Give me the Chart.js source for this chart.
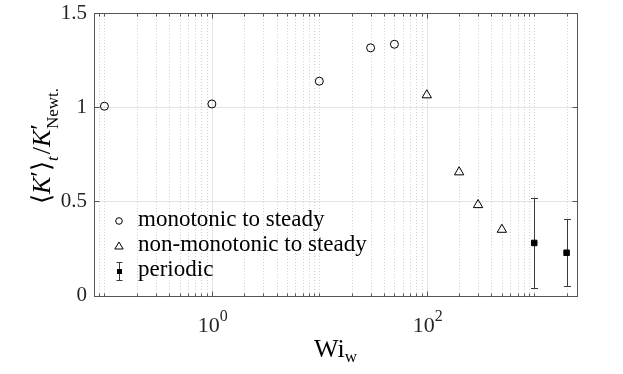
<!DOCTYPE html>
<html><head><meta charset="utf-8">
<script src="https://cdn.jsdelivr.net/npm/chart.js@4.4.0/dist/chart.umd.min.js"></script>
<style>html,body{margin:0;padding:0;background:#fff;}canvas{display:block;}</style>
</head><body>
<canvas id="c" width="623" height="374"></canvas>
<script>
// ---- data ----
const monotonicWi = [0.1, 1, 10, 30, 50];
const monotonicK = [1.005, 1.017, 1.138, 1.315, 1.334];
const nonMonotonicWi = [100, 200, 300, 500];
const nonMonotonicK = [1.064, 0.655, 0.481, 0.350];
const periodicWi = [1000, 2000];
const periodicK = [0.279, 0.227];
const periodicLow = [0.038, 0.049];
const periodicHigh = [0.519, 0.407];
const xTicks = [1, 100];
const yTicks = [0, 0.5, 1, 1.5];
const legendLabels = ['monotonic to steady', 'non-monotonic to steady', 'periodic'];
const xMin = 0.08, xMax = 2500, yMin = 0, yMax = 1.5;

const SERIF = '"Liberation Serif", "Times New Roman", serif';
const AXC = '#262626';

function pts(xs, ys) { return xs.map((x, i) => ({x: x, y: ys[i]})); }

const deco = {
  id: 'deco',
  beforeDatasetsDraw(chart) {
    const ctx = chart.ctx, a = chart.chartArea, sx = chart.scales.x, sy = chart.scales.y;
    ctx.save();
    // minor x grid (dotted)
    ctx.strokeStyle = '#d2d2d2'; ctx.lineWidth = 1; ctx.setLineDash([1, 2]);
    for (let k = -2; k <= 4; k++) {
      for (let n = 1; n <= 9; n++) {
        const v = n * Math.pow(10, k);
        if (v < xMin || v > xMax || xTicks.some(t => Math.abs(t - v) < 1e-9)) continue;
        const px = Math.round(sx.getPixelForValue(v)) + 0.5;
        ctx.beginPath(); ctx.moveTo(px, a.top); ctx.lineTo(px, a.bottom); ctx.stroke();
      }
    }
    ctx.setLineDash([]);
    // major grid
    ctx.strokeStyle = '#e3e3e3';
    xTicks.forEach(v => {
      const px = Math.round(sx.getPixelForValue(v)) + 0.5;
      ctx.beginPath(); ctx.moveTo(px, a.top); ctx.lineTo(px, a.bottom); ctx.stroke();
    });
    yTicks.forEach(v => {
      const py = Math.round(sy.getPixelForValue(v)) + 0.5;
      ctx.beginPath(); ctx.moveTo(a.left, py); ctx.lineTo(a.right, py); ctx.stroke();
    });
    // error bars
    ctx.strokeStyle = '#3a3a3a'; ctx.lineWidth = 1;
    periodicWi.forEach((x, i) => {
      const px = Math.round(sx.getPixelForValue(x)) + 0.5;
      const y1 = sy.getPixelForValue(periodicLow[i]), y2 = sy.getPixelForValue(periodicHigh[i]);
      ctx.beginPath();
      ctx.moveTo(px, y1); ctx.lineTo(px, y2);
      ctx.moveTo(px - 3.5, Math.round(y1) + 0.5); ctx.lineTo(px + 3.5, Math.round(y1) + 0.5);
      ctx.moveTo(px - 3.5, Math.round(y2) + 0.5); ctx.lineTo(px + 3.5, Math.round(y2) + 0.5);
      ctx.stroke();
    });
    ctx.restore();
  },
  afterDraw(chart) {
    const ctx = chart.ctx, a = chart.chartArea, sx = chart.scales.x, sy = chart.scales.y;
    ctx.save();
    // box
    ctx.strokeStyle = '#555'; ctx.lineWidth = 1;
    const L = Math.round(a.left) + 0.5, R = Math.round(a.right) + 0.5, T = Math.round(a.top) + 0.5, B = Math.round(a.bottom) + 0.5;
    ctx.strokeRect(L, T, R - L, B - T);
    // ticks
    ctx.beginPath();
    for (let k = -2; k <= 4; k++) {
      for (let n = 1; n <= 9; n++) {
        const v = n * Math.pow(10, k);
        if (v < xMin || v > xMax) continue;
        const major = xTicks.some(t => Math.abs(t - v) < 1e-9);
        const len = major ? 5 : 3;
        const px = Math.round(sx.getPixelForValue(v)) + 0.5;
        ctx.moveTo(px, B); ctx.lineTo(px, B - len);
        ctx.moveTo(px, T); ctx.lineTo(px, T + len);
      }
    }
    yTicks.forEach(v => {
      const py = Math.round(sy.getPixelForValue(v)) + 0.5;
      ctx.moveTo(L, py); ctx.lineTo(L + 5, py);
      ctx.moveTo(R, py); ctx.lineTo(R - 5, py);
    });
    ctx.stroke();

    // x tick labels 10^n
    ctx.fillStyle = AXC; ctx.textBaseline = 'alphabetic'; ctx.textAlign = 'left';
    xTicks.forEach(v => {
      const e = String(Math.round(Math.log10(v)));
      ctx.font = '22px ' + SERIF; const wb = ctx.measureText('10').width;
      ctx.font = '16px ' + SERIF; const we = ctx.measureText(e).width;
      const px = sx.getPixelForValue(v);
      const x0 = px - (wb + we) / 2 + 1;
      ctx.font = '22px ' + SERIF; ctx.fillText('10', x0, 332);
      ctx.font = '16px ' + SERIF; ctx.fillText(e, x0 + wb, 321);
    });

    // x title Wi_w
    ctx.fillStyle = '#000';
    ctx.font = '26px ' + SERIF; const wWi = ctx.measureText('Wi').width;
    ctx.font = '17px ' + SERIF; const ww = ctx.measureText('w').width;
    const cx = (a.left + a.right) / 2;
    const xs = cx - (wWi + ww) / 2;
    ctx.font = '26px ' + SERIF; ctx.fillText('Wi', xs, 357);
    ctx.font = '17px ' + SERIF; ctx.fillText('w', xs + wWi, 362);

    // y title <K'>_t / K'_Newt.
    const big = 26, small = 17, sub = 8;
    const segs = [
      {t: '\u27E8', f: big + 'px ' + SERIF, dy: 0},
      {t: 'K', f: 'italic ' + big + 'px ' + SERIF, dy: 0},
      {t: '\u2032', f: big + 'px ' + SERIF, dy: -2},
      {t: '\u27E9', f: big + 'px ' + SERIF, dy: 0},
      {t: 't', f: 'italic ' + small + 'px ' + SERIF, dy: sub},
      {t: '/', f: big + 'px ' + SERIF, dy: 0, pre: 2},
      {t: 'K', f: 'italic ' + big + 'px ' + SERIF, dy: 0},
      {t: '\u2032', f: big + 'px ' + SERIF, dy: -2},
      {t: 'Newt.', f: small + 'px ' + SERIF, dy: sub, back: 5}
    ];
    let total = 0;
    segs.forEach(s => { ctx.font = s.f; s.w = ctx.measureText(s.t).width; total += s.w - (s.back || 0) + (s.pre || 0); });
    ctx.translate(50, 146);
    ctx.rotate(-Math.PI / 2);
    let xx = -total / 2;
    segs.forEach(s => {
      ctx.font = s.f; xx -= (s.back || 0); xx += (s.pre || 0);
      ctx.fillText(s.t, xx, s.dy); xx += s.w;
    });
    ctx.setTransform(1, 0, 0, 1, 0, 0);

    // legend
    const lx = 119, tx = 138, rows = [221, 246, 271];
    ctx.strokeStyle = '#000'; ctx.lineWidth = 1; ctx.fillStyle = '#000';
    ctx.beginPath(); ctx.arc(lx, rows[0], 3.3, 0, Math.PI * 2); ctx.stroke();
    ctx.beginPath(); ctx.moveTo(lx, rows[1] - 4); ctx.lineTo(lx + 4.2, rows[1] + 3); ctx.lineTo(lx - 4.2, rows[1] + 3); ctx.closePath(); ctx.stroke();
    ctx.strokeStyle = '#3a3a3a';
    ctx.beginPath();
    ctx.moveTo(lx + 0.5, rows[2] - 9); ctx.lineTo(lx + 0.5, rows[2] + 9);
    ctx.moveTo(lx - 2.5, rows[2] - 8.5); ctx.lineTo(lx + 3.5, rows[2] - 8.5);
    ctx.moveTo(lx - 2.5, rows[2] + 9.5); ctx.lineTo(lx + 3.5, rows[2] + 9.5);
    ctx.stroke();
    ctx.fillRect(lx - 2, rows[2] - 2, 5, 5);
    ctx.font = '23px ' + SERIF; ctx.fillStyle = '#000';
    legendLabels.forEach((t, i) => ctx.fillText(t, tx, rows[i] + 5));
    ctx.restore();
  }
};

new Chart(document.getElementById('c'), {
  type: 'scatter',
  data: {
    datasets: [
      {label: legendLabels[0], data: pts(monotonicWi, monotonicK), pointStyle: 'circle', pointRadius: 4,
       pointBorderWidth: 1, borderColor: '#000', backgroundColor: 'rgba(255,255,255,0)'},
      {label: legendLabels[1], data: pts(nonMonotonicWi, nonMonotonicK), pointStyle: 'triangle', pointRadius: 5.4,
       pointBorderWidth: 1, borderColor: '#000', backgroundColor: 'rgba(255,255,255,0)'},
      {label: legendLabels[2], data: pts(periodicWi, periodicK), pointStyle: 'rect', pointRadius: 3.9,
       pointBorderWidth: 1, borderColor: '#000', backgroundColor: '#000'}
    ]
  },
  options: {
    responsive: false, animation: false, devicePixelRatio: 1,
    events: [],
    layout: {padding: {left: 0, right: 46, top: 13, bottom: 0}},
    plugins: {legend: {display: false}, tooltip: {enabled: false}},
    scales: {
      x: {
        type: 'logarithmic', min: xMin, max: xMax,
        grid: {display: false, drawTicks: false}, border: {display: false},
        ticks: {display: false},
        afterBuildTicks: s => { s.ticks = xTicks.map(v => ({value: v})); },
        afterFit: s => { s.height = 78.5; s.paddingLeft = 0; s.paddingRight = 0; }
      },
      y: {
        type: 'linear', min: yMin, max: yMax,
        grid: {display: false, drawTicks: false}, border: {display: false},
        ticks: {padding: 7, color: AXC, font: {family: SERIF, size: 21}, callback: v => String(v)},
        afterBuildTicks: s => { s.ticks = yTicks.map(v => ({value: v})); },
        afterFit: s => { s.width = 94; s.paddingTop = 0; s.paddingBottom = 0; }
      }
    }
  },
  plugins: [deco]
});
</script>
</body></html>
